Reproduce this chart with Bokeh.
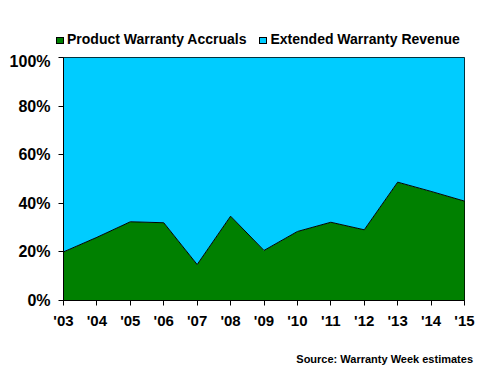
from bokeh.plotting import figure
from bokeh.models import FixedTicker, ColumnDataSource, Div
from bokeh.layouts import column
from bokeh.embed import file_html
from bokeh.resources import INLINE

years = [2003, 2004, 2005, 2006, 2007, 2008, 2009, 2010, 2011, 2012, 2013, 2014, 2015]
year_labels = ["'03", "'04", "'05", "'06", "'07", "'08", "'09", "'10", "'11", "'12", "'13", "'14", "'15"]
accruals = [20.0, 26.0, 32.4, 32.0, 14.8, 34.7, 20.6, 28.4, 32.2, 29.1, 48.7, 44.9, 40.9]
extended = [100 - a for a in accruals]
y_ticks = [0, 20, 40, 60, 80, 100]
series_names = ["Product Warranty Accruals", "Extended Warranty Revenue"]
source_text = "Source: Warranty Week estimates"

GREEN = "#008000"
CYAN = "#00CCFF"
FONT = "Liberation Sans"
W = 476

# ---- legend strip (HTML text) ----
def swatch(color):
    return ('<span style="display:inline-block;width:8px;height:7px;background:%s;'
            'border:1px solid #000;margin-right:3px;"></span>' % color)

gap = '<span style="display:inline-block;width:13px;"></span>'
legend_html = ('<div style="padding:31px 0 0 56px;font-family:\'%s\';font-weight:bold;'
               'font-size:14px;line-height:16px;white-space:nowrap;color:#000;">'
               '%s%s%s%s%s</div>') % (FONT, swatch(GREEN), series_names[0], gap,
                                      swatch(CYAN), series_names[1])
legend_div = Div(text=legend_html, width=W, height=52, margin=0)

# ---- main chart ----
src = ColumnDataSource(dict(x=years, acc=accruals, ext=extended))

p = figure(width=W, height=293, output_backend="svg", toolbar_location=None,
           x_range=(years[0], years[-1]), y_range=(0, 100),
           min_border_left=63, min_border_right=12, min_border_top=5, min_border_bottom=45,
           margin=0)

p.varea_stack(stackers=["acc", "ext"], x="x", color=[GREEN, CYAN], source=src)
p.line(x="x", y="acc", source=src, line_color="black", line_width=1)

p.xgrid.visible = False
p.ygrid.visible = False
p.outline_line_color = "black"
p.outline_line_width = 1

p.xaxis.ticker = FixedTicker(ticks=years)
p.xaxis.major_label_overrides = {y: l for y, l in zip(years, year_labels)}
p.yaxis.ticker = FixedTicker(ticks=y_ticks)
p.yaxis.major_label_overrides = {t: f"{t}%" for t in y_ticks}

for ax in (p.xaxis, p.yaxis):
    ax.axis_line_color = "black"
    ax.major_tick_line_color = "black"
    ax.major_tick_out = 5
    ax.major_tick_in = 0
    ax.minor_tick_line_color = None
    ax.major_label_text_font = FONT
    ax.major_label_text_font_style = "bold"
    ax.major_label_text_color = "black"
p.xaxis.major_label_text_font_size = "15px"
p.yaxis.major_label_text_font_size = "16px"
p.xaxis.major_label_standoff = 6
p.yaxis.major_label_standoff = 8

# ---- source strip (HTML text) ----
source_html = ('<div style="box-sizing:border-box;width:%dpx;padding:8px 3px 0 0;text-align:right;'
               'font-family:\'%s\';font-weight:bold;font-size:11px;line-height:13px;'
               'white-space:nowrap;color:#000;">%s</div>') % (W, FONT, source_text)
source_div = Div(text=source_html, width=W, height=37, margin=0)

layout = column(legend_div, p, source_div, spacing=0)
open("out.html", "w").write(file_html(layout, INLINE))
